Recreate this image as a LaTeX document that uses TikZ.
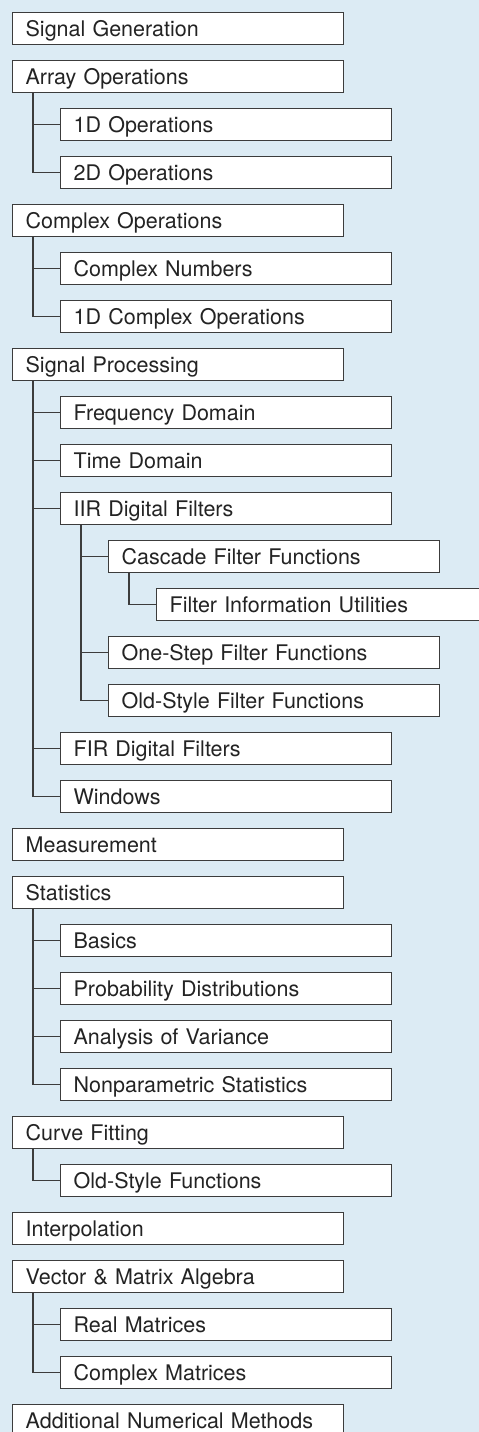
\documentclass[tikz,border=0pt]{standalone}
\usepackage{fontspec}
\setmainfont{TeX Gyre Heros}
\usetikzlibrary{calc}
\definecolor{bgblue}{RGB}{220,235,244}
\definecolor{linegray}{RGB}{60,60,60}
\definecolor{txtgray}{RGB}{35,35,35}
\tikzset{
  item/.style={draw=linegray, line width=1.3pt, fill=white, anchor=north west,
    minimum width=331pt, minimum height=32pt, text width=305pt, align=left,
    inner xsep=13pt, inner ysep=0pt, text height=16pt, text depth=0pt,
    text=txtgray, font=\fontsize{21.5}{24}\selectfont},
  conn/.style={draw=linegray, line width=1.3pt}
}
\newcommand{\lnk}[2]{\draw[conn] ($(#1.south west)+(21,0)$) |- (#2.west);}
\begin{document}
\begin{tikzpicture}[x=1pt,y=-1pt]
\fill[bgblue] (0,0) rectangle (479,1432);
\useasboundingbox (0,0) rectangle (479,1432);
\clip (0,0) rectangle (479,1432);
% level offsets: 12, 60, 108, 156 ; row pitch 48
\node[item] (n0)  at (12,12)   {Signal Generation};
\node[item] (n1)  at (12,60)   {Array Operations};
\node[item] (n2)  at (60,108)  {1D Operations};
\node[item] (n3)  at (60,156)  {2D Operations};
\node[item] (n4)  at (12,204)  {Complex Operations};
\node[item] (n5)  at (60,252)  {Complex Numbers};
\node[item] (n6)  at (60,300)  {1D Complex Operations};
\node[item] (n7)  at (12,348)  {Signal Processing};
\node[item] (n8)  at (60,396)  {Frequency Domain};
\node[item] (n9)  at (60,444)  {Time Domain};
\node[item] (n10) at (60,492)  {IIR Digital Filters};
\node[item] (n11) at (108,540) {Cascade Filter Functions};
\node[item] (n12) at (156,588) {Filter Information Utilities};
\node[item] (n13) at (108,636) {One-Step Filter Functions};
\node[item] (n14) at (108,684) {Old-Style Filter Functions};
\node[item] (n15) at (60,732)  {FIR Digital Filters};
\node[item] (n16) at (60,780)  {Windows};
\node[item] (n17) at (12,828)  {Measurement};
\node[item] (n18) at (12,876)  {Statistics};
\node[item] (n19) at (60,924)  {Basics};
\node[item] (n20) at (60,972)  {Probability Distributions};
\node[item] (n21) at (60,1020) {Analysis of Variance};
\node[item] (n22) at (60,1068) {Nonparametric Statistics};
\node[item] (n23) at (12,1116) {Curve Fitting};
\node[item] (n24) at (60,1164) {Old-Style Functions};
\node[item] (n25) at (12,1212) {Interpolation};
\node[item] (n26) at (12,1260) {Vector \& Matrix Algebra};
\node[item] (n27) at (60,1308) {Real Matrices};
\node[item] (n28) at (60,1356) {Complex Matrices};
\node[item] (n29) at (12,1404) {Additional Numerical Methods};
% connectors
\lnk{n1}{n2}\lnk{n1}{n3}
\lnk{n4}{n5}\lnk{n4}{n6}
\lnk{n7}{n8}\lnk{n7}{n9}\lnk{n7}{n10}\lnk{n7}{n15}\lnk{n7}{n16}
\lnk{n10}{n11}\lnk{n10}{n13}\lnk{n10}{n14}
\lnk{n11}{n12}
\lnk{n18}{n19}\lnk{n18}{n20}\lnk{n18}{n21}\lnk{n18}{n22}
\lnk{n23}{n24}
\lnk{n26}{n27}\lnk{n26}{n28}
\end{tikzpicture}
\end{document}
